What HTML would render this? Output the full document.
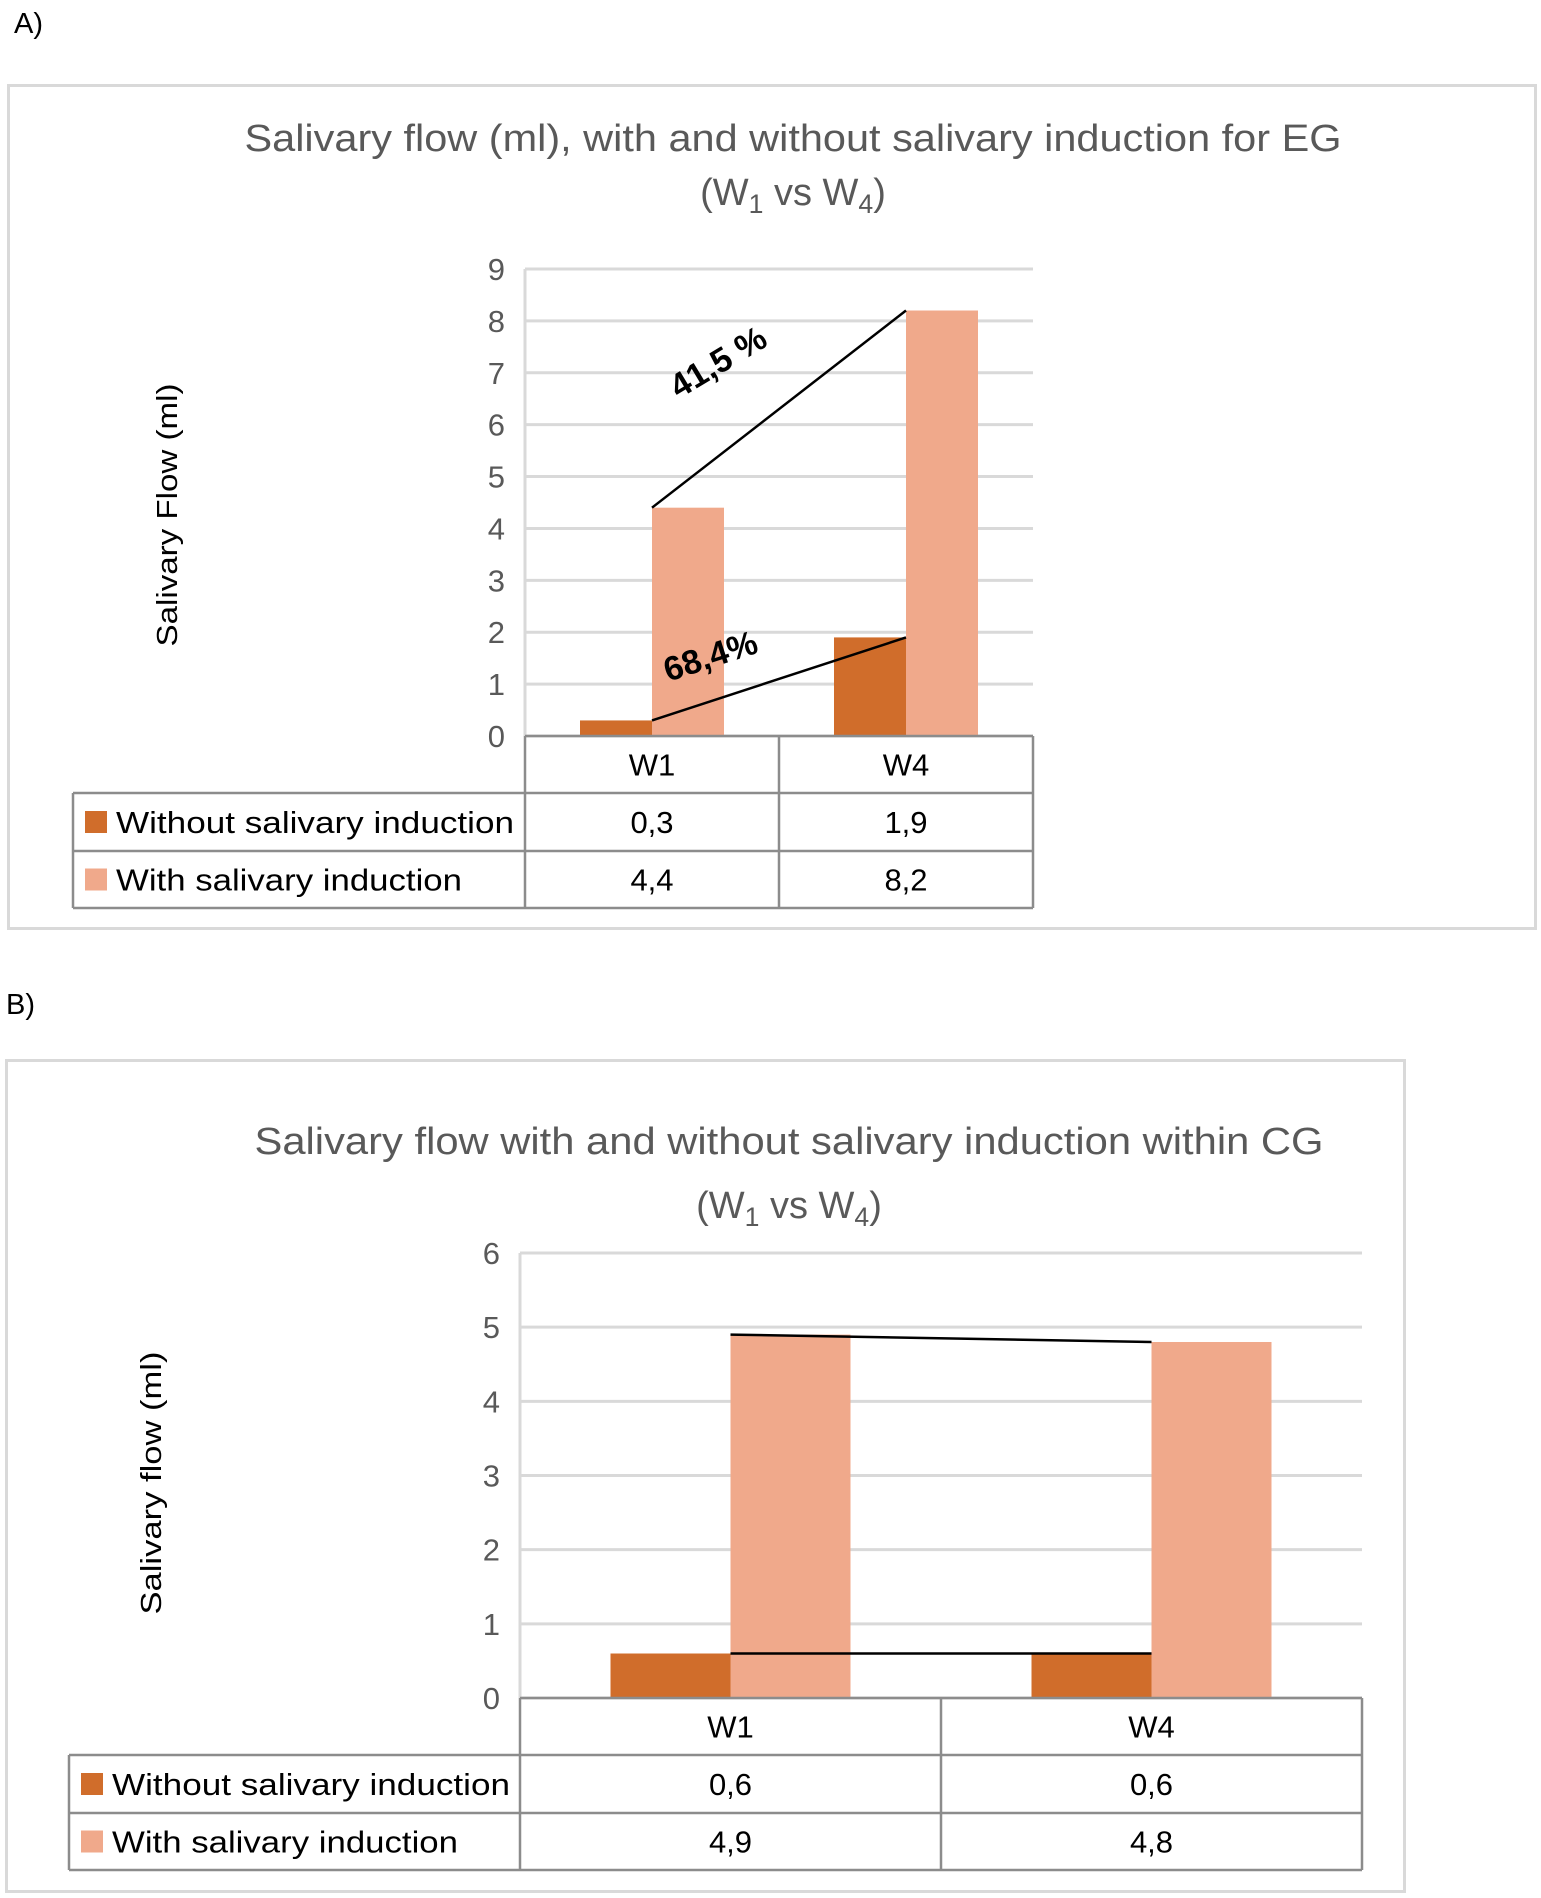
<!DOCTYPE html>
<html><head><meta charset="utf-8">
<style>
html,body{margin:0;padding:0;background:#fff;}
svg{display:block;font-family:"Liberation Sans",sans-serif;}
</style></head>
<body>
<svg id="svg" width="1541" height="1898" viewBox="0 0 1541 1898" xmlns="http://www.w3.org/2000/svg">
<text x="14" y="33" font-size="29" fill="#000">A)</text>
<text x="6" y="1014" font-size="29" fill="#000">B)</text>
<rect x="8.5" y="85.5" width="1527" height="843" fill="none" stroke="#d9d9d9" stroke-width="3"/>
<rect x="6.5" y="1060.5" width="1398" height="831" fill="none" stroke="#d9d9d9" stroke-width="3"/>
<g id="ca"></g>
<g id="cb"></g>
</svg>
<script>
const catsA = ["W1","W4"];
const withoutA = [0.3, 1.9];
const withA = [4.4, 8.2];
const ticksA = [0,1,2,3,4,5,6,7,8,9];
const labelsWithoutA = ["0,3","1,9"];
const labelsWithA = ["4,4","8,2"];

const catsB = ["W1","W4"];
const withoutB = [0.6, 0.6];
const withB = [4.9, 4.8];
const ticksB = [0,1,2,3,4,5,6];
const labelsWithoutB = ["0,6","0,6"];
const labelsWithB = ["4,9","4,8"];

const NS="http://www.w3.org/2000/svg";
function mk(parent,tag,attrs,txt){const e=document.createElementNS(NS,tag);for(const k in attrs)e.setAttribute(k,attrs[k]);if(txt!==undefined)e.textContent=txt;parent.appendChild(e);return e;}

function draw(g,cfg,cats,wo,wi,ticks,lwo,lwi){
  const x0=cfg.x0,x1=cfg.x1,yTop=cfg.yTop,yBot=cfg.yBot,maxV=ticks[ticks.length-1];
  const ys=v=>yBot-(v/maxV)*(yBot-yTop);
  const cw=(x1-x0)/cats.length;
  const cx=i=>x0+cw*(i+0.5);
  let t=mk(g,'text',{x:cfg.tx,y:cfg.ty1,'font-size':cfg.tfs,fill:'#595959','text-anchor':'middle',textLength:cfg.tlen,lengthAdjust:'spacingAndGlyphs'},cfg.title);
  
  
  let t2=mk(g,'text',{x:cfg.tx,y:cfg.ty2,'font-size':cfg.tfs,fill:'#595959','text-anchor':'middle'});
  
  
  t2.innerHTML='(W<tspan font-size="'+(cfg.tfs*0.7)+'" dy="8">1</tspan><tspan dy="-8"> vs W</tspan><tspan font-size="'+(cfg.tfs*0.7)+'" dy="8">4</tspan><tspan dy="-8">)</tspan>';
  ticks.forEach(v=>{
    const l=mk(g,'line',{x1:x0,x2:x1,y1:ys(v),y2:ys(v),stroke:'#d9d9d9','stroke-width':3});
    
    
    const tl=mk(g,'text',{x:x0-20,y:ys(v)+11,'font-size':31,fill:'#595959','text-anchor':'end'},String(v));
    
    
  });
  const ax=mk(g,'line',{x1:x0,x2:x0,y1:yTop,y2:yBot,stroke:'#d9d9d9','stroke-width':3});
  
  
  const yt=mk(g,'text',{x:0,y:0,'font-size':29,fill:'#000','text-anchor':'middle',transform:'translate('+cfg.ytx+','+cfg.yty+') rotate(-90)',textLength:cfg.ytlen,lengthAdjust:'spacingAndGlyphs'},cfg.ytitle);
  
  
  cats.forEach((c,i)=>{
    const b1=mk(g,'rect',{x:cx(i)-cfg.bw,y:ys(wo[i]),width:cfg.bw,height:yBot-ys(wo[i]),fill:'#D06D2B'});
    
    
    const b2=mk(g,'rect',{x:cx(i),y:ys(wi[i]),width:cfg.bw,height:yBot-ys(wi[i]),fill:'#F0A98B'});
    
    
  });
  const la=mk(g,'line',{x1:cx(0),y1:ys(wi[0]),x2:cx(1),y2:ys(wi[1]),stroke:'#000','stroke-width':2.5});
  
  
  const lb=mk(g,'line',{x1:cx(0),y1:ys(wo[0]),x2:cx(1),y2:ys(wo[1]),stroke:'#000','stroke-width':2.5});
  
  
  const r=cfg.rows, tl=cfg.tleft, st='#8c8c8c';
  const tbl=[[x0,r[0],x1,r[0]],[x0,r[0],x0,r[3]],[x1,r[0],x1,r[3]],[x0+cw,r[0],x0+cw,r[3]],
    [tl,r[1],x1,r[1]],[tl,r[2],x1,r[2]],[tl,r[3],x1,r[3]],[tl,r[1],tl,r[3]]];
  tbl.forEach(s=>{const e=mk(g,'line',{x1:s[0],y1:s[1],x2:s[2],y2:s[3],stroke:st,'stroke-width':2.5});
    
    });
  cats.forEach((c,i)=>{
    const h=mk(g,'text',{x:cx(i),y:(r[0]+r[1])/2+11,'font-size':31,fill:'#000','text-anchor':'middle'},c);
    
    
    const a=mk(g,'text',{x:cx(i),y:(r[1]+r[2])/2+11,'font-size':31,fill:'#000','text-anchor':'middle'},lwo[i]);
    
    
    const b=mk(g,'text',{x:cx(i),y:(r[2]+r[3])/2+11,'font-size':31,fill:'#000','text-anchor':'middle'},lwi[i]);
    
    
  });
  [['#D06D2B','Without salivary induction',1,'legend-without',398],['#F0A98B','With salivary induction',2,'legend-with',346]].forEach(L=>{
    const my=(r[L[2]]+r[L[2]+1])/2;
    const sw=mk(g,'rect',{x:tl+12,y:my-11,width:22,height:22,fill:L[0]});
    
    
    const tx=mk(g,'text',{x:tl+43,y:my+11,'font-size':31,fill:'#000',textLength:L[4],lengthAdjust:'spacingAndGlyphs'},L[1]);
    
    
  });
  return {ys,cx};
}

const A=draw(document.getElementById('ca'),{x0:525,x1:1033,yTop:269,yBot:736,bw:72,
  title:'Salivary flow (ml), with and without salivary induction for EG',tx:793,ty1:151,ty2:205,tfs:38,tlen:1097,
  ytitle:'Salivary Flow (ml)',ytx:177,yty:515,ytlen:263,rows:[736,793,851,908],tleft:73},
  catsA,withoutA,withA,ticksA,labelsWithoutA,labelsWithA);
const B=draw(document.getElementById('cb'),{x0:520,x1:1362,yTop:1253,yBot:1698,bw:120,
  title:'Salivary flow with and without salivary induction within CG',tx:789,ty1:1154,ty2:1218,tfs:38,tlen:1069,
  ytitle:'Salivary flow (ml)',ytx:161,yty:1483,ytlen:263,rows:[1698,1755,1813,1870],tleft:69},
  catsB,withoutB,withB,ticksB,labelsWithoutB,labelsWithB);

const ga=document.getElementById('ca');
const an1=mk(ga,'text',{x:0,y:0,'font-size':34,'font-weight':'bold',fill:'#000','text-anchor':'middle',transform:'translate(724,372) rotate(-31)'},'41,5 %');


const an2=mk(ga,'text',{x:0,y:0,'font-size':34,'font-weight':'bold',fill:'#000','text-anchor':'middle',transform:'translate(714,667) rotate(-18)'},'68,4%');


</script>
</body></html>
